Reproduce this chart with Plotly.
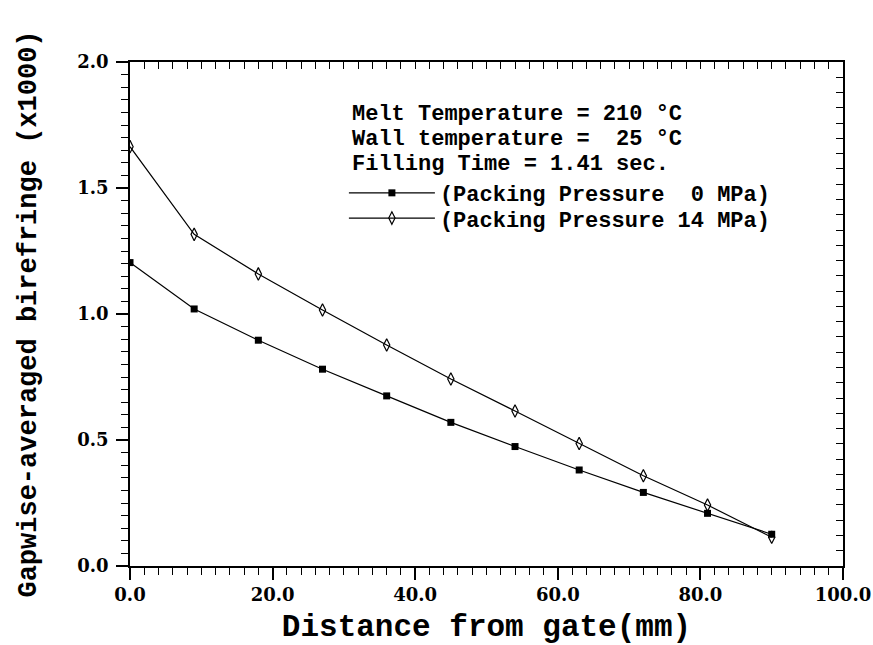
import plotly.graph_objects as go

# Distance from the gate (mm) and gapwise-averaged birefringence (x1000)
distance_mm = [0, 9, 18, 27, 36, 45, 54, 63, 72, 81, 90]
biref_pack_0 = [1.204, 1.020, 0.896, 0.781, 0.675, 0.570, 0.474, 0.381, 0.292, 0.209, 0.126]
biref_pack_14 = [1.664, 1.316, 1.159, 1.016, 0.877, 0.742, 0.615, 0.486, 0.358, 0.242, 0.114]

series_names = ["(Packing Pressure\u00a0\u00a00 MPa)", "(Packing Pressure 14 MPa)"]
info_lines = [
    "Melt Temperature = 210 \u00b0C",
    "Wall temperature =\u00a0\u00a025 \u00b0C",
    "Filling Time = 1.41 sec.",
]

MONO = "Liberation Mono"
SERIF = "DejaVu Serif"
TEXT_SIZE = 22

fig = go.Figure()
fig.add_trace(go.Scatter(
    x=distance_mm, y=biref_pack_0, name=series_names[0], mode="lines+markers",
    line=dict(color="black", width=1.2),
    marker=dict(symbol="square", size=7, color="black"),
    legend="legend",
))
fig.add_trace(go.Scatter(
    x=distance_mm, y=biref_pack_14, name=series_names[1], mode="lines+markers",
    line=dict(color="black", width=1.2),
    marker=dict(symbol="diamond-tall-open", size=9, color="black", line=dict(width=1.2)),
    legend="legend2",
))

# Process conditions block
for i, txt in enumerate(info_lines):
    fig.add_annotation(
        text=txt, xref="paper", yref="paper", x=0.308, y=0.895 - i * 0.0496,
        xanchor="left", yanchor="middle", showarrow=False,
        font=dict(family=MONO, size=TEXT_SIZE, color="black", weight="bold"),
    )

legend_style = dict(
    x=0.300, xanchor="left", yanchor="middle",
    bgcolor="rgba(0,0,0,0)", itemwidth=86, borderwidth=0,
    font=dict(family=MONO, size=TEXT_SIZE, color="black", weight="bold"),
)

axis_font = dict(family=SERIF, size=18, color="black", weight="bold")

fig.update_layout(
    width=873, height=645,
    margin=dict(l=130, r=30, t=62, b=79, autoexpand=False),
    plot_bgcolor="white", paper_bgcolor="white",
    showlegend=True,
    legend=dict(y=0.740, **legend_style),
    legend2=dict(y=0.690, **legend_style),
    xaxis=dict(
        range=[0, 100], tick0=0, dtick=20, tickformat=".1f",
        ticks="outside", ticklen=12, tickwidth=1.5, tickcolor="black",
        minor=dict(dtick=2, ticks="outside", ticklen=7, tickwidth=1.2, tickcolor="black"),
        showline=True, linecolor="black", linewidth=1.5, mirror=False,
        showgrid=False, zeroline=False, tickfont=axis_font,
        title=dict(text="Distance from gate(mm)", standoff=10,
                   font=dict(family=MONO, size=31, color="black", weight="bold")),
    ),
    yaxis=dict(
        range=[0, 2], tick0=0, dtick=0.5, tickformat=".1f",
        ticks="outside", ticklen=12, tickwidth=1.5, tickcolor="black",
        minor=dict(dtick=0.05, ticks="outside", ticklen=7, tickwidth=1.2, tickcolor="black"),
        showline=True, linecolor="black", linewidth=1.5, mirror=False,
        showgrid=False, zeroline=False, tickfont=axis_font, ticklabelstandoff=4,
        title=dict(text="Gapwise-averaged birefringe (x1000)", standoff=33,
                   font=dict(family=MONO, size=27, color="black", weight="bold")),
    ),
    # Unlabelled frame axes on the top and right edges
    xaxis2=dict(
        overlaying="x", side="top", range=[0, 100], dtick=2,
        ticks="inside", ticklen=7, tickwidth=1.2, tickcolor="black",
        showticklabels=False, showline=True, linecolor="black", linewidth=1.5,
        showgrid=False, zeroline=False,
    ),
    yaxis2=dict(
        overlaying="y", side="right", range=[0, 33], dtick=1,
        ticks="inside", ticklen=7, tickwidth=1.2, tickcolor="black",
        showticklabels=False, showline=True, linecolor="black", linewidth=1.5,
        showgrid=False, zeroline=False,
    ),
)

# Invisible trace so the frame axes get drawn
fig.add_trace(go.Scatter(x=[None], y=[None], xaxis="x2", yaxis="y2",
                         showlegend=False, hoverinfo="skip"))

fig.write_html("out.html")
